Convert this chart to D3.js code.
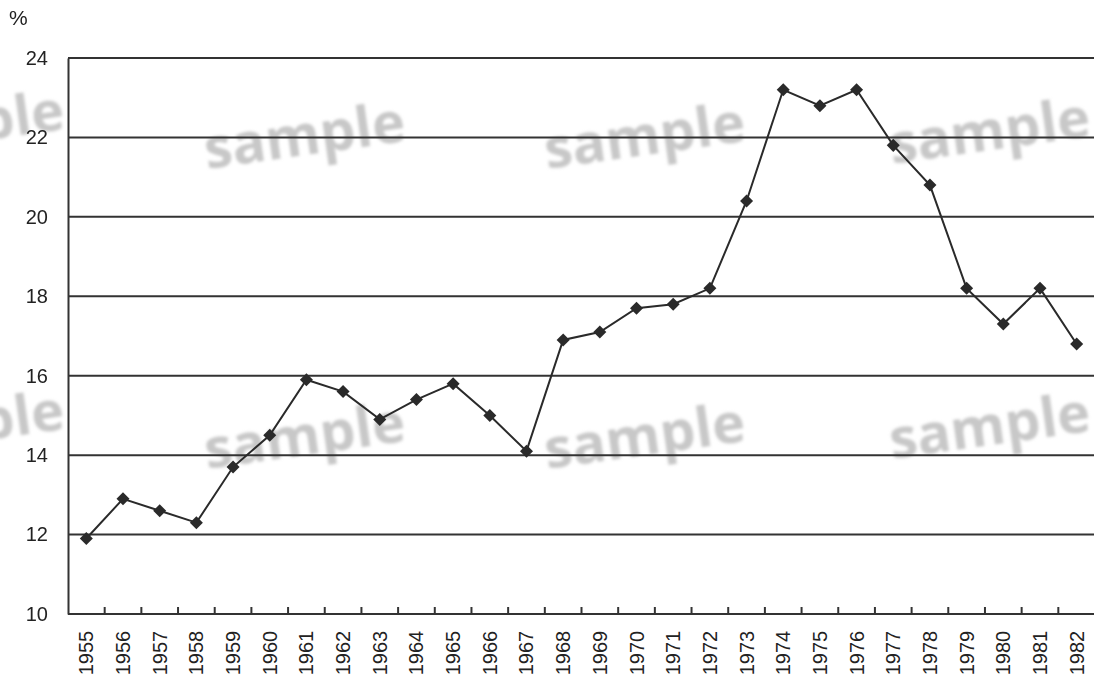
<!DOCTYPE html>
<html>
<head>
<meta charset="utf-8">
<script src="https://cdn.jsdelivr.net/npm/d3@7"></script>
<style>
  html, body { margin: 0; padding: 0; background: #fff; }
  svg { display: block; }
  text { font-family: "Liberation Sans", Arial, "Noto Sans CJK JP", sans-serif; fill: #222; }
</style>
</head>
<body>
<svg id="chart" width="1094" height="682"></svg>
<script>
// Annual share (%), 1955–1982
const years = [
  "1955","1956","1957","1958","1959","1960","1961","1962","1963","1964",
  "1965","1966","1967","1968","1969","1970","1971","1972","1973","1974",
  "1975","1976","1977","1978","1979","1980","1981","1982"
];
const values = [
  11.9, 12.9, 12.6, 12.3, 13.7, 14.5, 15.9, 15.6, 14.9, 15.4,
  15.8, 15.0, 14.1, 16.9, 17.1, 17.7, 17.8, 18.2, 20.4, 23.2,
  22.8, 23.2, 21.8, 20.8, 18.2, 17.3, 18.2, 16.8
];
const yTicks = [10, 12, 14, 16, 18, 20, 22, 24];
const unitLabel = "%";
const watermarkText = "sample";
const watermarkSpots = [
  [305, 140], [645, 140], [990, 135],
  [305, 440], [645, 440], [990, 430],
  [-36, 128], [-36, 428]
];

const svg = d3.select("#chart");
const plotLeft = 68, plotRight = 1095, plotTop = 58, plotBottom = 614;

const x = d3.scaleBand().domain(years).range([plotLeft, plotRight]).padding(0);
const y = d3.scaleLinear().domain([10, 24]).range([plotBottom, plotTop]);

// Soft grey watermark layer
const defs = svg.append("defs");
defs.append("filter").attr("id", "soft")
  .attr("x", "-20%").attr("y", "-50%").attr("width", "140%").attr("height", "200%")
  .append("feGaussianBlur").attr("stdDeviation", 1.8);

svg.append("g").attr("filter", "url(#soft)")
  .selectAll("text").data(watermarkSpots).join("text")
  .attr("transform", d => `translate(${d[0]},${d[1]}) rotate(-8)`)
  .attr("text-anchor", "middle")
  .attr("dominant-baseline", "middle")
  .style("font-family", "'Open Sans', 'DejaVu Sans', sans-serif")
  .style("font-weight", "700")
  .style("font-size", "56px")
  .style("fill", "#c8c8c8")
  .text(watermarkText);

// Horizontal gridlines
svg.append("g")
  .selectAll("line").data(yTicks.filter(t => t > 10)).join("line")
  .attr("x1", plotLeft).attr("x2", 1094)
  .attr("y1", d => y(d)).attr("y2", d => y(d))
  .attr("stroke", "#333").attr("stroke-width", 2);

// Y axis
const yAxis = svg.append("g")
  .attr("transform", `translate(${plotLeft},0)`)
  .call(d3.axisLeft(y).tickValues(yTicks).tickSize(0).tickPadding(20));
yAxis.select(".domain").attr("stroke", "#333").attr("stroke-width", 2);
yAxis.selectAll("text").style("font-size", "20px").attr("fill", "#222");

// X axis with tick marks at category boundaries
const xAxis = svg.append("g")
  .attr("transform", `translate(0,${plotBottom})`)
  .call(d3.axisBottom(x).tickSize(0).tickPadding(0));
xAxis.select(".domain").attr("d", `M${plotLeft},0H1094`).attr("stroke", "#333").attr("stroke-width", 2);
xAxis.selectAll(".tick text")
  .attr("transform", "rotate(-90)")
  .attr("x", -39).attr("y", 0)
  .attr("dy", "0.35em")
  .attr("text-anchor", "middle")
  .style("font-size", "20px")
  .attr("fill", "#222");
svg.append("g")
  .selectAll("line").data(years.slice(1)).join("line")
  .attr("x1", d => x(d)).attr("x2", d => x(d))
  .attr("y1", plotBottom).attr("y2", plotBottom - 7)
  .attr("stroke", "#333").attr("stroke-width", 2);

// Unit label
svg.append("text")
  .attr("x", 9).attr("y", 25)
  .style("font-size", "21px")
  .text(unitLabel);

// Series line
const pts = years.map((yr, i) => [x(yr) + x.bandwidth() / 2, y(values[i])]);
svg.append("path")
  .attr("d", d3.line()(pts))
  .attr("fill", "none").attr("stroke", "#2a2a2a").attr("stroke-width", 2);

// Diamond markers
svg.append("g")
  .selectAll("path").data(pts).join("path")
  .attr("transform", d => `translate(${d[0]},${d[1]}) rotate(45)`)
  .attr("d", "M-4.6,-4.6H4.6V4.6H-4.6Z")
  .attr("fill", "#2a2a2a");
</script>
</body>
</html>
